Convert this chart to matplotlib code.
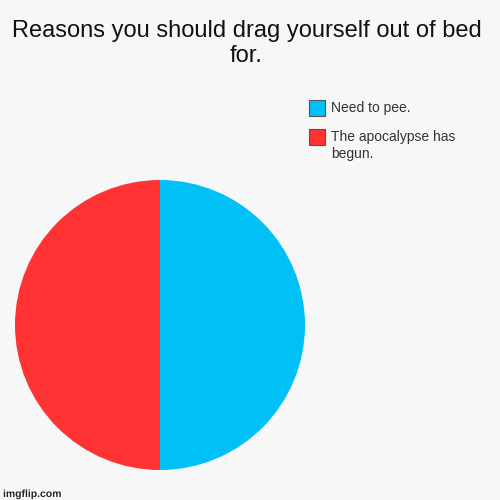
import textwrap
import matplotlib
matplotlib.use("Agg")
import matplotlib.pyplot as plt
import matplotlib.patheffects as pe
from matplotlib.patches import Rectangle

plt.rcParams['font.family'] = ['Liberation Sans', 'DejaVu Sans']

title = "Reasons you should drag yourself out of bed for."
labels = ["Need to pee.", "The apocalypse has begun."]
values = [50, 50]
colors = ["#00c0f5", "#ff3333"]

W = H = 500.0
fig = plt.figure(figsize=(5, 5), dpi=100, facecolor="#f7f7f7")

# title, wrapped on two lines like the original
fig.text(0.493, 1 - 20 / H, textwrap.fill(title, 44),
         ha="center", va="top", fontsize=17, color="#111111", linespacing=1.15)

ax = fig.add_axes([15 / W, 30 / H, 290 / W, 290 / H])
ax.set_facecolor("#f7f7f7")
ax.pie(values, colors=colors, startangle=90, counterclock=False,
       wedgeprops=dict(linewidth=0))
ax.set_xlim(-1, 1)
ax.set_ylim(-1, 1)
ax.set_aspect("equal")

# legend drawn by hand: square aligned with the first text line
for i, (lab, c) in enumerate(zip(labels, colors)):
    top = 100 + 29 * i
    fig.add_artist(Rectangle((309 / W, 1 - (top + 16) / H), 16 / W, 16 / H,
                             transform=fig.transFigure, facecolor=c,
                             edgecolor="#555555", linewidth=0.8))
    fig.text(331 / W, 1 - (top + 0.5) / H, textwrap.fill(lab, 18),
             ha="left", va="top", fontsize=10, color="#333333", linespacing=1.35)

fig.text(0.006, 0.006, "imgflip.com", fontsize=7.5, color="#222222", fontweight="bold",
         path_effects=[pe.withStroke(linewidth=1.5, foreground="white")])

fig.savefig("out.png", dpi=100, facecolor=fig.get_facecolor())
